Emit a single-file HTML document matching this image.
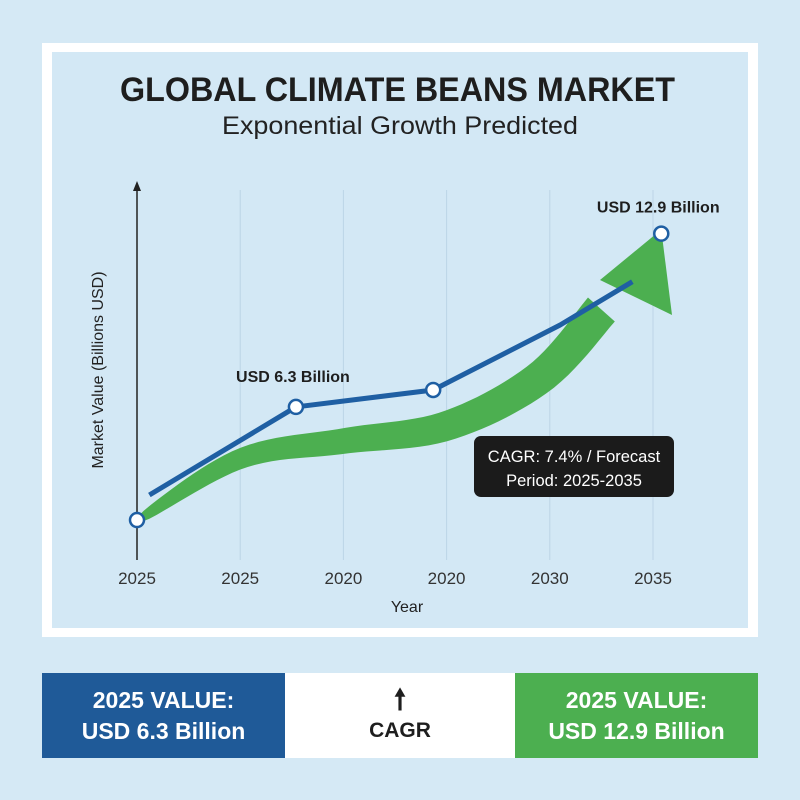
<!DOCTYPE html>
<html><head><meta charset="utf-8"><style>
body{margin:0;width:800px;height:800px;background:#d5e9f5;font-family:"Liberation Sans",sans-serif;position:relative;overflow:hidden}
.frame{position:absolute;left:42px;top:43px;width:716px;height:594px;background:#fff}
.inner{position:absolute;left:10px;top:9px;width:696px;height:576px;background:#d3e8f5}
.bb{position:absolute;top:673px;height:85px;color:#fff;font-weight:bold;font-size:23px;text-align:center;display:flex;flex-direction:column;justify-content:center;line-height:31px}
</style></head><body>
<div class="frame"><div class="inner"></div></div>
<svg width="800" height="800" style="position:absolute;left:0;top:0" id="chart">
<text x="120" y="101" textLength="555" lengthAdjust="spacingAndGlyphs" font-size="34" font-weight="bold" fill="#1e1e1e">GLOBAL CLIMATE BEANS MARKET</text>
<text x="222" y="134" textLength="356" lengthAdjust="spacingAndGlyphs" font-size="25" fill="#222">Exponential Growth Predicted</text>
<g id="grid"></g>
<line x1="137" y1="560" x2="137" y2="188" stroke="#222" stroke-width="1.5"/>
<polygon points="137,181 133,191 141,191" fill="#222"/>
<text transform="translate(103,370) rotate(-90)" text-anchor="middle" font-size="16" fill="#222">Market Value (Billions USD)</text>
<text x="407" y="612" text-anchor="middle" font-size="16" fill="#222">Year</text>
<g id="marks"></g>
<rect x="474" y="436" width="200" height="61" rx="7" fill="#1b1b1b"/>
<text x="574" y="462" text-anchor="middle" font-size="16.5" fill="#fff">CAGR: 7.4% / Forecast</text>
<text x="574" y="486" text-anchor="middle" font-size="16.5" fill="#fff">Period: 2025-2035</text>
</svg>
<div class="bb" style="left:42px;width:243px;background:#1f5a98"><div>2025 VALUE:</div><div>USD 6.3 Billion</div></div>
<div class="bb" style="left:285px;width:230px;background:#fff;color:#1e1e1e;font-size:21px"><div style="font-size:28px;line-height:30px">&#129045;</div><div>CAGR</div></div>
<div class="bb" style="left:515px;width:243px;background:#4caf50"><div>2025 VALUE:</div><div>USD 12.9 Billion</div></div>
<script>
const tickLabels=["2025","2025","2020","2020","2030","2035"];
const lineX=[0.12,1.54,2.87,4.1,4.8];
const lineY=[2.57,6.05,6.72,9.29,11.0];
const markerX=[0.0,1.54,2.87,5.08];
const markerY=[1.58,6.05,6.72,12.9];
const arrowX=[0.02,1.0,2.0,3.0,3.9,4.5];
const arrowY=[1.6,4.0,4.7,5.3,7.2,9.9];
const labels=[{t:"USD 6.3 Billion",i:1},{t:"USD 12.9 Billion",i:3}];
const NS="http://www.w3.org/2000/svg";
const xs=i=>137+i*103.2, ys=v=>560-v*25.3;
const grid=document.getElementById('grid'), marks=document.getElementById('marks');
function mk(tag,a,p){const e=document.createElementNS(NS,tag);for(const k in a)e.setAttribute(k,a[k]);p.appendChild(e);return e;}
tickLabels.forEach((t,i)=>{
 if(i>0){const l=mk('line',{x1:xs(i),x2:xs(i),y1:190,y2:560,stroke:'#bcd5e6','stroke-width':1},grid);
 
 }
 const tx=mk('text',{x:xs(i),y:584,'text-anchor':'middle','font-size':17,fill:'#333'},grid);tx.textContent=t;
 
 
});
const cp=arrowX.map((x,i)=>[xs(x),ys(arrowY[i])]);
function smooth(pts){let d=`M${pts[0][0]},${pts[0][1]}`;for(let i=0;i<pts.length-1;i++){const p0=pts[i-1]||pts[i],p1=pts[i],p2=pts[i+1],p3=pts[i+2]||p2;
 d+=` C${p1[0]+(p2[0]-p0[0])/6},${p1[1]+(p2[1]-p0[1])/6} ${p2[0]-(p3[0]-p1[0])/6},${p2[1]-(p3[1]-p1[1])/6} ${p2[0]},${p2[1]}`;}return d;}
const tmp=mk('path',{d:smooth(cp),fill:'none'},marks);
const L=tmp.getTotalLength(),up=[],dn=[];
for(let k=0;k<=60;k++){const s=L*k/60,p=tmp.getPointAtLength(s),q=tmp.getPointAtLength(Math.min(L,s+1)),r=tmp.getPointAtLength(Math.max(0,s-1));
 let dx=q.x-r.x,dy=q.y-r.y,n=Math.hypot(dx,dy)||1;const w=(6+30*Math.sqrt(k/60))/2;up.push([p.x-dy/n*w,p.y+dx/n*w]);dn.push([p.x+dy/n*w,p.y-dx/n*w]);}
tmp.remove();
const band=mk('polygon',{points:up.concat(dn.reverse()).map(p=>p.join(',')).join(' '),fill:'#4caf50'},marks);


const tip=[xs(markerX[3]),ys(markerY[3])-4];
const head=mk('polygon',{points:`${tip[0]},${tip[1]} 600,280 672,315`,fill:'#4caf50'},marks);


const pl=mk('polyline',{points:lineX.map((x,i)=>xs(x)+','+ys(lineY[i])).join(' '),fill:'none',stroke:'#1f5fa3','stroke-width':5,'stroke-linejoin':'round'},marks);


markerX.forEach((x,i)=>{const c=mk('circle',{cx:xs(x),cy:ys(markerY[i]),r:7,fill:'#fff',stroke:'#1f5fa3','stroke-width':2.5},marks);
 
 });
labels.forEach(o=>{const t=mk('text',{x:xs(markerX[o.i])-3,y:ys(markerY[o.i])-(o.i==1?25:21),'text-anchor':'middle','font-size':16,fill:'#1e1e1e','font-weight':'bold'},marks);t.textContent=o.t;
 
 });
</script>
</body></html>
